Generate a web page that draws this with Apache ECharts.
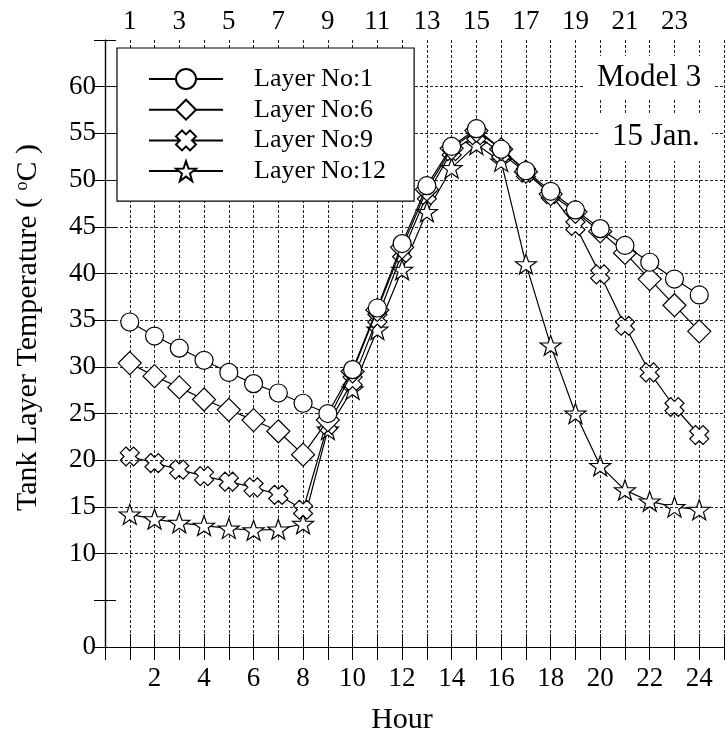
<!DOCTYPE html>
<html><head><meta charset="utf-8">
<script src="https://cdn.jsdelivr.net/npm/echarts@6/dist/echarts.min.js"></script>
<style>html,body{margin:0;padding:0;background:#fff}#c{width:727px;height:740px}</style>
</head><body><div id="c"></div>
<script>
// ---- data ----
const hours = [1,2,3,4,5,6,7,8,9,10,11,12,13,14,15,16,17,18,19,20,21,22,23,24];
const layer1  = [34.8,33.3,32.0,30.7,29.4,28.2,27.2,26.1,25.0,29.7,36.3,43.2,49.4,53.6,55.5,53.3,51.0,48.8,46.8,44.8,43.0,41.2,39.4,37.7];
const layer6  = [30.4,29.0,27.8,26.5,25.4,24.3,23.1,20.6,24.3,29.5,36.1,42.8,49.0,53.4,55.3,53.3,50.9,48.5,46.6,44.5,42.2,39.4,36.6,33.8];
const layer9  = [20.4,19.7,19.0,18.3,17.7,17.1,16.3,14.7,23.8,28.5,35.2,42.2,48.4,53.1,54.8,52.9,50.8,48.5,45.1,39.9,34.4,29.4,25.7,22.7];
const layer12 = [14.2,13.7,13.3,13.0,12.7,12.5,12.6,13.2,23.3,27.6,34.0,40.4,46.6,51.3,53.8,52.0,41.0,32.3,25.0,19.4,16.8,15.6,15.0,14.7];
const seriesNames = ['Layer No:1','Layer No:6','Layer No:9','Layer No:12'];
const xBottomLabels = [2,4,6,8,10,12,14,16,18,20,22,24];
const xTopLabels = [1,3,5,7,9,11,13,15,17,19,21,23];
const yLabels = [0,10,15,20,25,30,35,40,45,50,55,60];
const gridY = [10,15,20,25,30,35,40,45,50,55,60];
const notes = ['Model 3','15 Jan.'];

const F = '"Liberation Serif", "Times New Roman", serif';
const symCross = 'path://M3,0 L5,2 L7,0 L10,3 L8,5 L10,7 L7,10 L5,8 L3,10 L0,7 L2,5 L0,3 Z';
const symStar = 'path://M50,0 L61.8,33.8 L97.6,34.5 L69,56.2 L79.4,90.5 L50,70 L20.6,90.5 L31,56.2 L2.4,34.5 L38.2,33.8 Z';
const dash = {color:'#222', type:[3,2], width:1};

function mk(name, vals, symbol, size, z, extra){
  return Object.assign({
    name, type:'line', z,
    data: hours.map((h,i)=>[h, vals[i]]),
    symbol, symbolSize:size, symbolKeepAspect:true, showAllSymbol:true,
    lineStyle:{color:'#000', width:1.2},
    itemStyle:{color:'#fff', borderColor:'#000', borderWidth:1.2},
    emphasis:{disabled:true}, animation:false
  }, extra||{});
}

const chart = echarts.init(document.getElementById('c'), null, {renderer:'canvas'});
const axisBase = {
  type:'value', min:0, max:25, interval:1,
  axisLine:{show:true, lineStyle:{color:'#000', width:1.2}},
  axisTick:{show:true, inside:true, length:13, lineStyle:{color:'#000', width:1}},
};
chart.setOption({
  animation:false,
  backgroundColor:'#fff',
  grid:{left:105, right:-3, top:40, bottom:88, containLabel:false},
  legend:{
    data:seriesNames, left:117, top:48, orient:'vertical',
    itemWidth:74, itemHeight:25, itemGap:4.7,
    padding:[18,28,17,31],
    backgroundColor:'#fff', borderColor:'#000', borderWidth:1.2,
    textStyle:{fontFamily:F, fontSize:26, color:'#000', padding:[0,0,0,26]},
    selectedMode:false, z:10
  },
  xAxis:[
    Object.assign({}, axisBase, {
      position:'bottom',
      axisLabel:{fontFamily:F, fontSize:27, color:'#000', margin:18,
        formatter:v=> xBottomLabels.includes(v) ? String(v) : ''},
      splitLine:{show:true, lineStyle:dash},
      name:'Hour', nameLocation:'middle', nameGap:58,
      nameTextStyle:{fontFamily:F, fontSize:30, color:'#000', padding:[0,25,0,0]}
    }),
    Object.assign({}, axisBase, {
      position:'top',
      axisLabel:{fontFamily:F, fontSize:27, color:'#000', margin:5,
        formatter:v=> xTopLabels.includes(v) ? String(v) : ''},
      splitLine:{show:false}
    })
  ],
  yAxis:[
    {type:'value', min:0, max:65, interval:5, position:'left',
     axisLine:{show:true, lineStyle:{color:'#000', width:1.2}},
     axisTick:{show:true, inside:true, length:11, lineStyle:{color:'#000', width:1}},
     axisLabel:{fontFamily:F, fontSize:27, color:'#000', margin:9,
       formatter:v=> yLabels.includes(v) ? String(v) : ''},
     splitLine:{show:false},
     name:'Tank Layer Temperature ( {s|o}C )', nameLocation:'middle', nameGap:62,
     nameTextStyle:{fontFamily:F, fontSize:30, color:'#000', padding:[0,0,0,32],
       rich:{s:{fontFamily:F, fontSize:18, color:'#000', verticalAlign:'top', padding:[0,0,11,0]}}}
    },
    {type:'value', min:0, max:65, interval:5, position:'right',
     axisLine:{show:true, lineStyle:{color:'#000', width:1.2}},
     axisTick:{show:true, inside:true, length:11, lineStyle:{color:'#000', width:1}},
     axisLabel:{show:false}, splitLine:{show:false}}
  ],
  graphic:[
    {type:'text', left:585, top:56, z:100,
     style:{text:notes[0], fontFamily:F, fontSize:31, fill:'#000', backgroundColor:'#fff', padding:[6,12,6,12]}},
    {type:'text', left:600, top:114, z:100,
     style:{text:notes[1], fontFamily:F, fontSize:31, fill:'#000', backgroundColor:'#fff', padding:[7,12,9,12]}}
  ],
  series:[
    mk(seriesNames[0], layer1, 'circle', 18, 6),
    mk(seriesNames[1], layer6, 'diamond', 23, 5),
    mk(seriesNames[2], layer9, symCross, 19, 4),
    mk(seriesNames[3], layer12, symStar, 21, 3, {
      markLine:{silent:true, symbol:'none', label:{show:false}, lineStyle:dash,
        emphasis:{disabled:true}, animation:false,
        data: gridY.map(v=>({yAxis:v}))}
    })
  ]
});
</script></body></html>
